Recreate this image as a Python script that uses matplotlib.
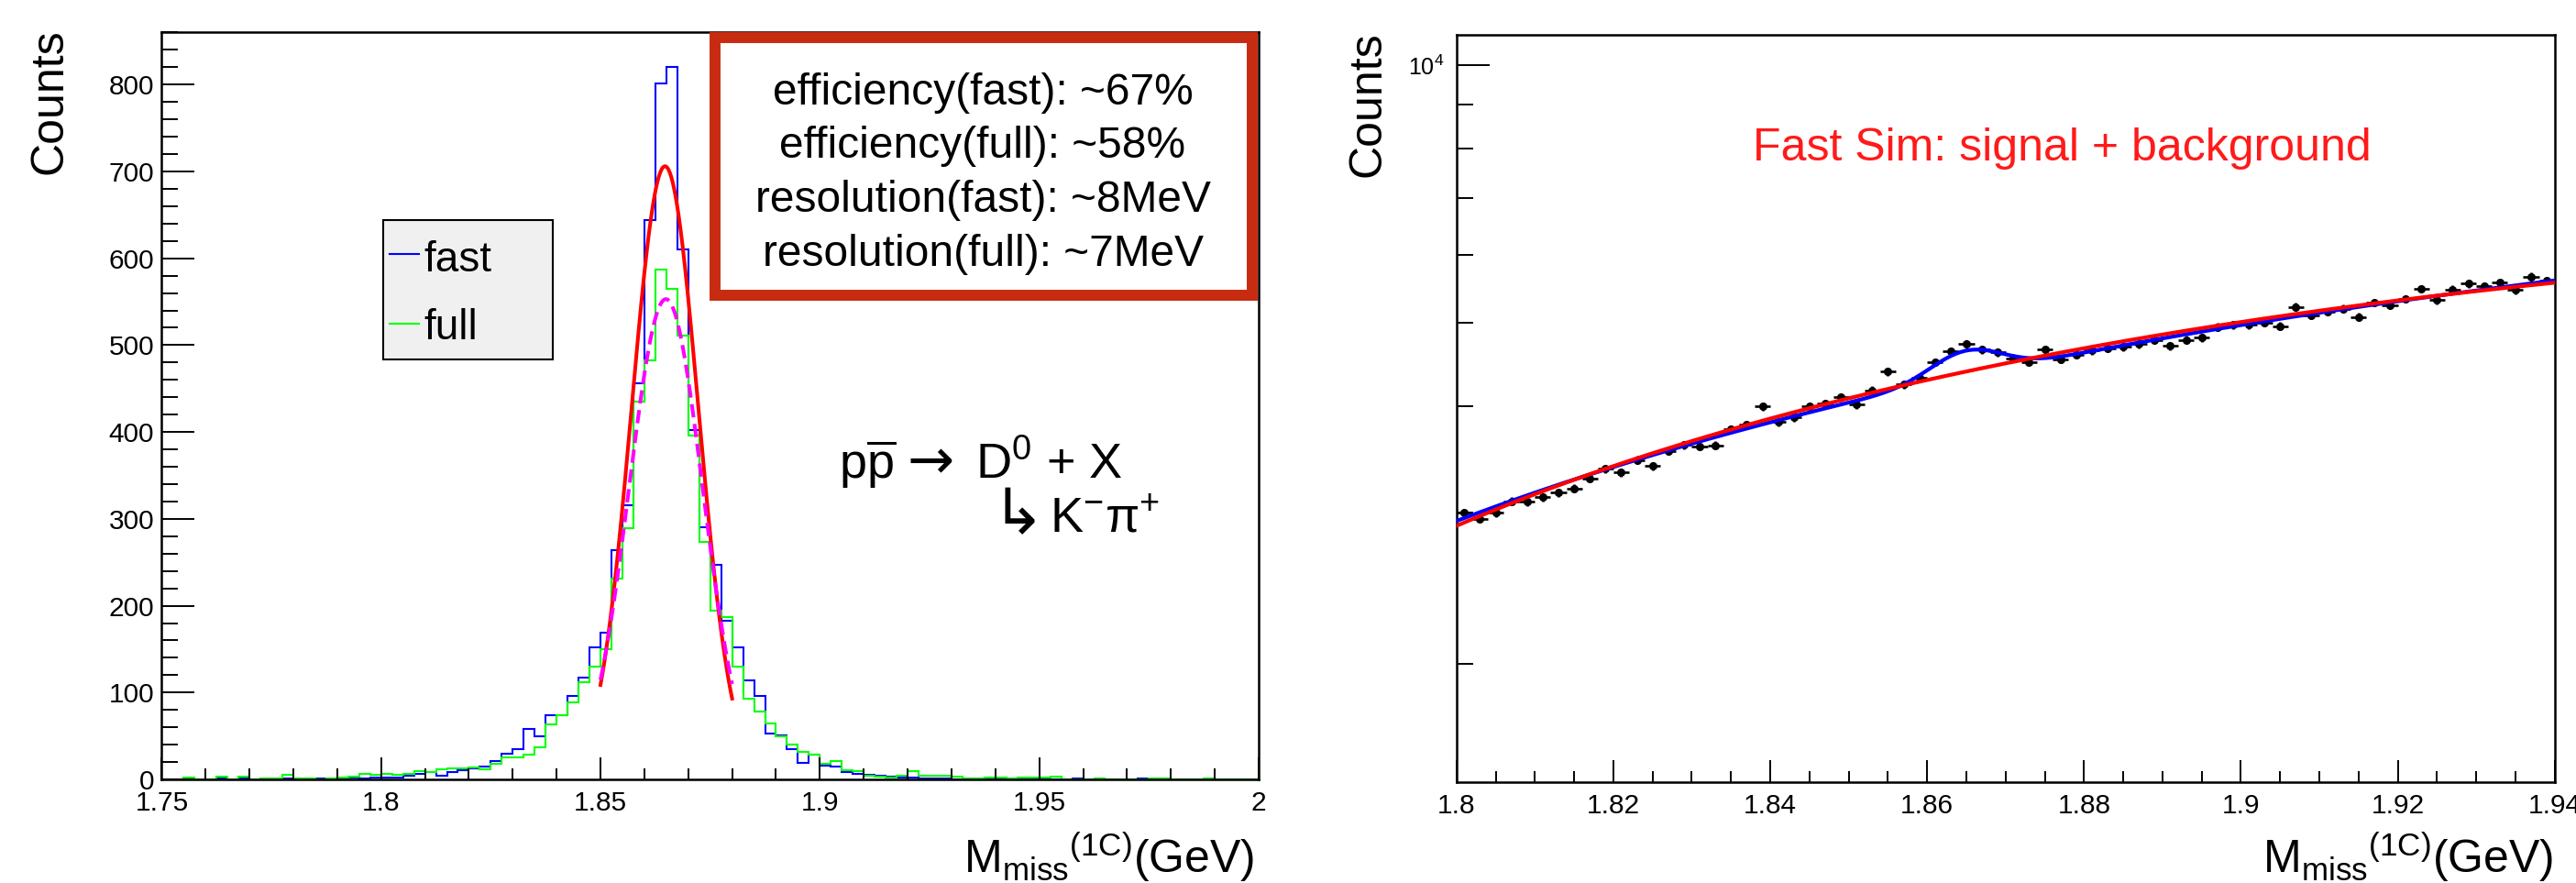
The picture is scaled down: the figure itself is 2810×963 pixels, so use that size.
import numpy as np
import matplotlib
matplotlib.use("Agg")
import matplotlib.pyplot as plt
from matplotlib.patches import Rectangle
from matplotlib.lines import Line2D
from matplotlib.ticker import MultipleLocator, LogLocator, NullFormatter, FuncFormatter

W, H = 2810, 963

plt.rcParams["font.family"] = ["Liberation Sans", "DejaVu Sans"]
plt.rcParams["mathtext.fontset"] = "custom"
plt.rcParams["mathtext.rm"] = "Liberation Sans"
plt.rcParams["mathtext.it"] = "Liberation Sans:italic"
plt.rcParams["mathtext.bf"] = "Liberation Sans:bold"

# left pad: M_miss histograms, 100 bins on [1.75, 2.0]
MASS_LO, MASS_HI, N_BINS = 1.75, 2.0, 100
FAST_COUNTS = [
    0, 0, 1, 0, 0, 1, 0, 1, 0, 0,
    0, 1, 0, 1, 1, 1, 1, 2, 1, 2,
    2, 2, 4, 6, 8, 4, 8, 11, 13, 15,
    21, 30, 35, 58, 50, 74, 74, 96, 117, 152,
    169, 264, 316, 456, 644, 801, 820, 610, 402, 290,
    247, 183, 152, 114, 96, 53, 51, 35, 19, 29,
    16, 15, 8, 6, 5, 4, 3, 2, 2, 1,
    1, 1, 0, 0, 0, 1, 0, 1, 0, 0,
    1, 0, 0, 1, 0, 0, 0, 0, 0, 1,
    0, 0, 0, 0, 0, 0, 0, 0, 0, 0,
]
FULL_COUNTS = [
    0, 0, 2, 0, 0, 3, 0, 3, 0, 1,
    1, 5, 1, 1, 0, 1, 2, 3, 6, 5,
    6, 5, 6, 9, 8, 12, 13, 13, 14, 12,
    18, 25, 25, 29, 37, 63, 74, 89, 112, 130,
    150, 231, 289, 435, 482, 587, 565, 511, 396, 273,
    194, 187, 130, 93, 78, 64, 50, 40, 32, 28,
    18, 21, 11, 9, 4, 3, 2, 4, 9, 4,
    4, 4, 3, 1, 1, 2, 2, 1, 2, 2,
    2, 3, 0, 0, 0, 1, 0, 0, 0, 0,
    1, 1, 0, 0, 0, 1, 0, 0, 0, 0,
]
# gaussian fits: amplitude, mean, sigma
FAST_FIT = (706, 1.8647, 0.0076)
FULL_FIT = (553, 1.8649, 0.0084)
FIT_RANGE = (1.85, 1.88)

# right pad: fast sim signal + background, 70 bins on [1.80, 1.94]
SB_LO, SB_HI, SB_BINS = 1.80, 1.94, 70
SB_COUNTS = [
    3000, 2953, 3000, 3095, 3090, 3129, 3167, 3203, 3291, 3379,
    3346, 3457, 3401, 3544, 3603, 3588, 3597, 3754, 3801, 3994,
    3832, 3878, 3994, 4026, 4094, 4017, 4173, 4389, 4240, 4311,
    4500, 4632, 4727, 4658, 4619, 4547, 4500, 4658, 4536, 4593,
    4644, 4670, 4690, 4727, 4777, 4700, 4777, 4806, 4945, 4978,
    4978, 5007, 4958, 5219, 5104, 5154, 5196, 5082, 5283, 5248,
    5336, 5482, 5319, 5472, 5559, 5518, 5573, 5468, 5665, 5606,
]
SB_ERR_FRAC = 0.011
# pol2 in (x - 1.87)
BKG_PARS = (4485.9, 19114.0, -51198.0)
SIG_BKG_PARS = (4429.2, 19079.0, -32398.0)
SIG_PARS = (310.0, 1.865, 0.0045)

BOX_LINES = [
    "efficiency(fast): ~67%",
    "efficiency(full): ~58%",
    "resolution(fast): ~8MeV",
    "resolution(full): ~7MeV",
]
XLABEL = r"M$_{\mathrm{miss}}$$^{\mathrm{(1C)}}$(GeV)"


def fx(p):
    return p / W


def fy(p):
    return 1 - p / H


def gauss(x, amp, mean, sigma):
    return amp * np.exp(-0.5 * ((x - mean) / sigma) ** 2)


def pol2(x, p0, p1, p2):
    t = x - 1.87
    return p0 + p1 * t + p2 * t * t


def fmt_g(v, pos):
    return f"{v:g}"


def style_axis(ax, xlen, ylen):
    for s in ax.spines.values():
        s.set_linewidth(1.8)
    ax.tick_params(which="both", direction="in", top=False, right=False,
                   width=1.4, labelsize=21.5, colors="black")
    ax.tick_params(axis="x", which="major", length=xlen, pad=9)
    ax.tick_params(axis="x", which="minor", length=xlen / 2)
    ax.tick_params(axis="y", which="major", length=ylen, pad=6)
    ax.tick_params(axis="y", which="minor", length=ylen / 2)


fig = plt.figure(figsize=(W / 100, H / 100), dpi=100)

# ---------- left pad ----------
ax1 = fig.add_axes([fx(176.4), fy(850), fx(1373 - 176.4), (850 - 34.5) / H])
edges = np.linspace(MASS_LO, MASS_HI, N_BINS + 1)
ax1.stairs(FAST_COUNTS, edges, color="#0000ff", lw=1.5)
ax1.stairs(FULL_COUNTS, edges, color="#00ff00", lw=1.5)
xf = np.linspace(FIT_RANGE[0], FIT_RANGE[1], 200)
ax1.plot(xf, gauss(xf, *FAST_FIT), color="#ff0000", lw=2.9)
ax1.plot(xf, gauss(xf, *FULL_FIT), color="#ff00ff", lw=2.9,
         linestyle=(0, (3.6, 1.8)))
ax1.set_xlim(MASS_LO, MASS_HI)
ax1.set_ylim(0, 861)
ax1.xaxis.set_major_locator(MultipleLocator(0.05))
ax1.xaxis.set_minor_locator(MultipleLocator(0.01))
ax1.yaxis.set_major_locator(MultipleLocator(100))
ax1.yaxis.set_minor_locator(MultipleLocator(20))
ax1.xaxis.set_major_formatter(FuncFormatter(fmt_g))
style_axis(ax1, 17.3, 25.9)

# ---------- right pad ----------
ax2 = fig.add_axes([fx(1588.8), fy(852.6), fx(2786.7 - 1588.8), (852.6 - 38.1) / H])
sb_edges = np.linspace(SB_LO, SB_HI, SB_BINS + 1)
centers = 0.5 * (sb_edges[:-1] + sb_edges[1:])
counts = np.array(SB_COUNTS, dtype=float)
ax2.errorbar(centers, counts, xerr=0.5 * (sb_edges[1] - sb_edges[0]),
             yerr=counts * SB_ERR_FRAC, fmt="o", color="black", ms=5.5,
             elinewidth=1.9, capsize=0, zorder=2)
xs = np.linspace(SB_LO, SB_HI, 500)
ax2.plot(xs, pol2(xs, *SIG_BKG_PARS) + gauss(xs, *SIG_PARS),
         color="#0000ff", lw=3.0, zorder=3)
ax2.plot(xs, pol2(xs, *BKG_PARS), color="#ff0000", lw=3.0, zorder=4)
ax2.set_yscale("log")
ax2.set_xlim(SB_LO, SB_HI)
ax2.set_ylim(1455, 10856)
ax2.yaxis.set_major_locator(LogLocator(base=10))
ax2.yaxis.set_minor_locator(LogLocator(base=10, subs=np.arange(2, 10)))
ax2.yaxis.set_minor_formatter(NullFormatter())
ax2.xaxis.set_major_locator(MultipleLocator(0.02))
ax2.xaxis.set_minor_locator(MultipleLocator(0.005))
ax2.xaxis.set_major_formatter(FuncFormatter(fmt_g))
style_axis(ax2, 17.3, 25.9)
ax2.tick_params(axis="y", which="major", labelsize=18, pad=10)

# ---------- axis titles ----------
fig.text(fx(1368), fy(952), XLABEL, ha="right", va="baseline", fontsize=36)
fig.text(fx(2785), fy(952), XLABEL, ha="right", va="baseline", fontsize=36)
fig.text(fx(55), fy(31), "Counts", rotation=90, ha="center", va="top", fontsize=36)
fig.text(fx(1492), fy(34), "Counts", rotation=90, ha="center", va="top", fontsize=36)

# ---------- efficiency box ----------
box = Rectangle((fx(780), fy(322)), fx(586), 280.5 / H, transform=fig.transFigure,
                facecolor="white", edgecolor="#c72c10", lw=8.6, zorder=5)
fig.add_artist(box)
for line, base in zip(BOX_LINES, [114, 172.5, 231, 290]):
    fig.text(fx(1072), fy(base), line, ha="center", va="baseline",
             fontsize=34.5, zorder=6)

# ---------- legend ----------
leg = Rectangle((fx(417.5), fy(391.7)), fx(603 - 417.5), (391.7 - 240) / H,
                transform=fig.transFigure, facecolor="#f0f0f0",
                edgecolor="black", lw=1.5, zorder=5)
fig.add_artist(leg)
for label, color, ly, base in [("fast", "#0000ff", 277, 296),
                               ("full", "#00ff00", 353.4, 370)]:
    fig.add_artist(Line2D([fx(425), fx(457)], [fy(ly), fy(ly)],
                          transform=fig.transFigure, color=color, lw=1.5, zorder=6))
    fig.text(fx(462), fy(base), label, ha="left", va="baseline", fontsize=33, zorder=6)

# ---------- reaction ----------
fig.text(fx(915), fy(522), r"p$\overline{\mathrm{p}}$",
         ha="left", va="baseline", fontsize=39)
fig.text(fx(990), fy(522), "\u2192", ha="left", va="baseline", fontsize=44,
         family=["DejaVu Sans"])
fig.text(fx(1064), fy(522), r"D$^{0}$ + X", ha="left", va="baseline", fontsize=39)
fig.text(fx(1082), fy(582), "\u21b3", ha="left", va="baseline", fontsize=50,
         family=["DejaVu Sans"])
fig.text(fx(1145), fy(580), r"K$^{-}$π$^{+}$", ha="left", va="baseline", fontsize=39)

fig.text(fx(1912), fy(175), "Fast Sim: signal + background", color="#ff1a1a",
         ha="left", va="baseline", fontsize=36)

fig.savefig("out.png", dpi=100, facecolor="white")
